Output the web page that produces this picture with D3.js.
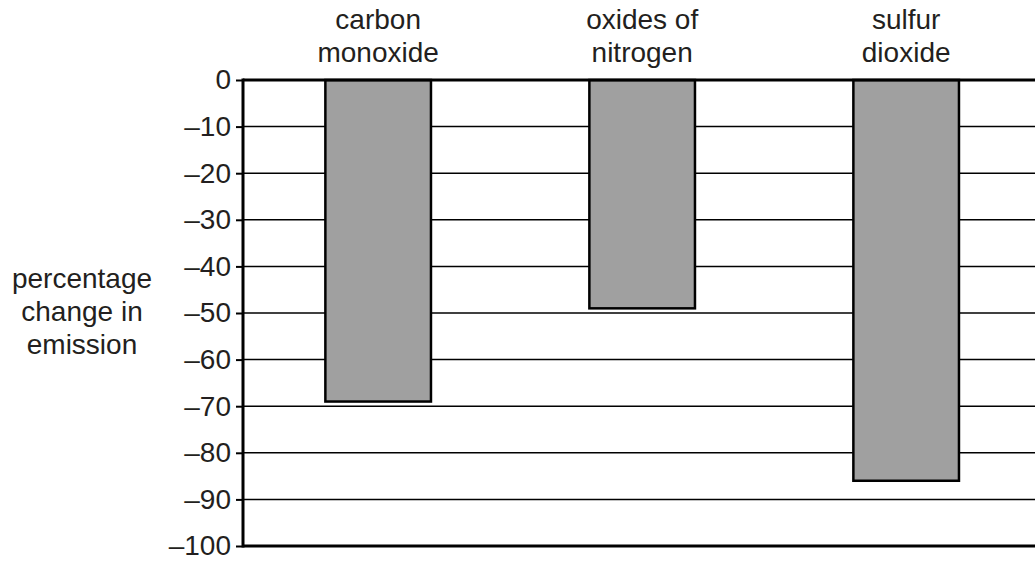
<!DOCTYPE html>
<html>
<head>
<meta charset="utf-8">
<script src="https://cdn.jsdelivr.net/npm/d3@7"></script>
<style>
  body { margin: 0; background: #fff; }
  text { font-family: "Liberation Sans", Arial, sans-serif; fill: #231f20; }
</style>
</head>
<body>
<svg id="chart" width="1035" height="562"></svg>
<script>
// Data
const categories = [["carbon", "monoxide"], ["oxides of", "nitrogen"], ["sulfur", "dioxide"]];
const values = [-69, -49, -86];
const tickValues = [0, -10, -20, -30, -40, -50, -60, -70, -80, -90, -100];
const yLabel = ["percentage", "change in", "emission"];

const svg = d3.select("#chart");
const plotLeft = 243, plotRight = 1035, plotTop = 80, plotBottom = 546;
const fontSize = "28px";

// Scales
const x = d3.scaleBand()
  .domain(d3.range(categories.length))
  .range([plotLeft, plotRight])
  .paddingInner(0.6)
  .paddingOuter(0.3)
  .align(0.52);
const y = d3.scaleLinear().domain([0, -100]).range([plotTop, plotBottom]);

// Gridlines
svg.selectAll("line.grid")
  .data(tickValues.filter((d) => d != 0 && d != -100))
  .enter()
  .append("line")
  .classed("grid", true)
  .attr("x1", plotLeft)
  .attr("x2", plotRight)
  .attr("y1", (d) => y(d))
  .attr("y2", (d) => y(d))
  .attr("stroke", "#000")
  .attr("stroke-width", 1.5);

// Bars
svg.selectAll("rect.bar")
  .data(values)
  .enter()
  .append("rect")
  .classed("bar", true)
  .attr("x", (d, i) => x(i))
  .attr("y", y(0))
  .attr("width", x.bandwidth())
  .attr("height", (d) => y(d) - y(0))
  .attr("fill", "#a0a0a0")
  .attr("stroke", "#000")
  .attr("stroke-width", 2.5);

// Y axis
const yAxis = d3.axisLeft(y)
  .tickValues(tickValues)
  .tickSize(7)
  .tickPadding(5)
  .tickFormat((d) => (d < 0 ? "\u2013" + Math.abs(d) : d));
const yAxisG = svg.append("g").attr("transform", `translate(${plotLeft},0)`).call(yAxis);
yAxisG.select(".domain").remove();
yAxisG.selectAll(".tick line").attr("stroke", "#000").attr("stroke-width", 2);
yAxisG.selectAll(".tick text")
  .style("font-size", fontSize)
  .style("font-family", "'Liberation Sans', Arial, sans-serif")
  .attr("fill", "#231f20");

// Frame lines (left, top, bottom)
svg.append("line")
  .attr("x1", plotLeft).attr("x2", plotLeft)
  .attr("y1", y(0) - 1.5).attr("y2", y(-100) + 1.5)
  .attr("stroke", "#000").attr("stroke-width", 3);
[0, -100].forEach((v) => {
  svg.append("line")
    .attr("x1", plotLeft).attr("x2", plotRight)
    .attr("y1", y(v)).attr("y2", y(v))
    .attr("stroke", "#000").attr("stroke-width", 3);
});

// Category labels
const catG = svg.selectAll("text.cat")
  .data(categories)
  .enter()
  .append("text")
  .classed("cat", true)
  .attr("text-anchor", "middle")
  .style("font-size", fontSize);
catG.selectAll("tspan")
  .data((d, i) => d.map((t) => ({ t: t, i: i })))
  .enter()
  .append("tspan")
  .attr("x", (d) => x(d.i) + x.bandwidth() / 2)
  .attr("y", (d, j) => 29 + j * 32.5)
  .text((d) => d.t);

// Y label
svg.append("text")
  .attr("text-anchor", "middle")
  .style("font-size", fontSize)
  .selectAll("tspan")
  .data(yLabel)
  .enter()
  .append("tspan")
  .attr("x", 82)
  .attr("y", (d, i) => 288 + i * 33)
  .text((d) => d);
</script>
</body>
</html>
